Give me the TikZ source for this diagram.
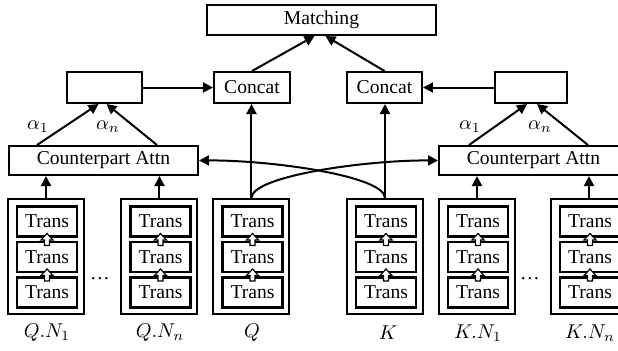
\documentclass[tikz,border=0pt]{standalone}
\usepackage{fontspec}
\setmainfont{Liberation Serif}
\usetikzlibrary{arrows.meta,calc}
\begin{document}
\begin{tikzpicture}[x=0.5pt,y=-0.5pt,
  font=\fontsize{9.8}{11}\selectfont,
  box/.style={draw,line width=1pt,inner sep=0pt,minimum height=15.5pt},
  stackbox/.style={draw,line width=1pt,inner sep=0pt,minimum width=38pt,minimum height=57.5pt},
  transbox/.style={draw,line width=1.2pt,inner sep=0pt,minimum width=30pt,minimum height=15pt},
  arr/.style={line width=1pt,-{Triangle[length=5pt,width=5pt]}},
  uparr/.pic={\draw[fill=white,line width=0.6pt] (-2.5,6)--(-2.5,0.5)--(-6,0.5)--(0,-6)--(6,0.5)--(2.5,0.5)--(2.5,6)--cycle;}
]
\useasboundingbox (0,0) rectangle (618,350);
\clip (0,0) rectangle (618,350);

% top boxes
\node[box,minimum width=114.5pt,minimum height=15pt] (match) at (321.5,20) {Matching};
\node[box,minimum width=37.5pt] (boxL) at (104.5,87.5) {};
\node[box,minimum width=38pt] (catL) at (252,87.5) {Concat};
\node[box,minimum width=37.5pt] (catR) at (384.5,87.5) {Concat};
\node[box,minimum width=36pt] (boxR) at (531,87.5) {};
\node[box,minimum width=94.5pt,minimum height=14.5pt] (caL) at (103.5,160.5) {Counterpart Attn};
\node[box,minimum width=94.5pt,minimum height=14.5pt] (caR) at (533.5,160.5) {Counterpart Attn};

% stacks
\foreach \n/\x in {qa/46,qb/159.5,q/251.5,k/385,ka/477,kb/589}{
  \node[stackbox] (\n) at (\x,256.5) {};
  \node[transbox] (\n t1) at (\x+1,221.5) {Trans};
  \node[transbox] (\n t2) at (\x+1,257) {Trans};
  \node[transbox] (\n t3) at (\x+1,292.5) {Trans};
  \pic at (\x+1,239.5) {uparr};
  \pic at (\x+1,275) {uparr};
}

% labels
\node (lqa) at (47,333) {$Q.N_1$};
\node (lqb) at (160,333) {$Q.N_n$};
\node (lq) at (252,333) {$Q$};
\node (lk) at (388,333) {$K$};
\node (lka) at (478,333) {$K.N_1$};
\node (lkb) at (590,333) {$K.N_n$};
\node (dl) at (100,279) {\dots};
\node (dr) at (530,279) {\dots};

% stacks to attn
\draw[arr] (qa.north) -- (qa.north |- caL.south);
\draw[arr] (qb.north) -- (qb.north |- caL.south);
\draw[arr] (ka.north) -- (ka.north |- caR.south);
\draw[arr] (kb.north) -- (kb.north |- caR.south);

% Q, K to concat
\draw[arr] (q.north) -- (q.north |- catL.south);
\draw[arr] (k.north) -- (k.north |- catR.south);

% crossing curves
\draw[arr] (q.north) .. controls (251.5,176) and (366,160) .. (caR.west);
\draw[arr] (k.north) .. controls (385,176) and (271,160) .. (caL.east);

% attn to boxes
\coordinate (aL1) at ($(caL.north west)+(29,0)$);
\coordinate (aL2) at ($(caL.north west)+(149,0)$);
\coordinate (aR1) at ($(caR.north west)+(31,0)$);
\coordinate (aR2) at ($(caR.north west)+(150,0)$);
\draw[arr] (aL1) -- ($(boxL.south)+(-6,0)$);
\draw[arr] (aL2) -- ($(boxL.south)+(2,0)$);
\draw[arr] (aR1) -- ($(boxR.south)+(-4,0)$);
\draw[arr] (aR2) -- ($(boxR.south)+(6,0)$);
\node (al1) at (38,127) {$\alpha_1$};
\node (aln) at (108,127) {$\alpha_n$};
\node (ar1) at (470,127) {$\alpha_1$};
\node (arn) at (540,127) {$\alpha_n$};

% boxes to concat
\draw[arr] (boxL.east) -- (catL.west);
\draw[arr] (boxR.west) -- (catR.east);

% concat to matching
\draw[arr] (catL.north) -- ($(match.south)+(-7,0)$);
\draw[arr] (catR.north) -- ($(match.south)+(4,0)$);
\end{tikzpicture}
\end{document}
